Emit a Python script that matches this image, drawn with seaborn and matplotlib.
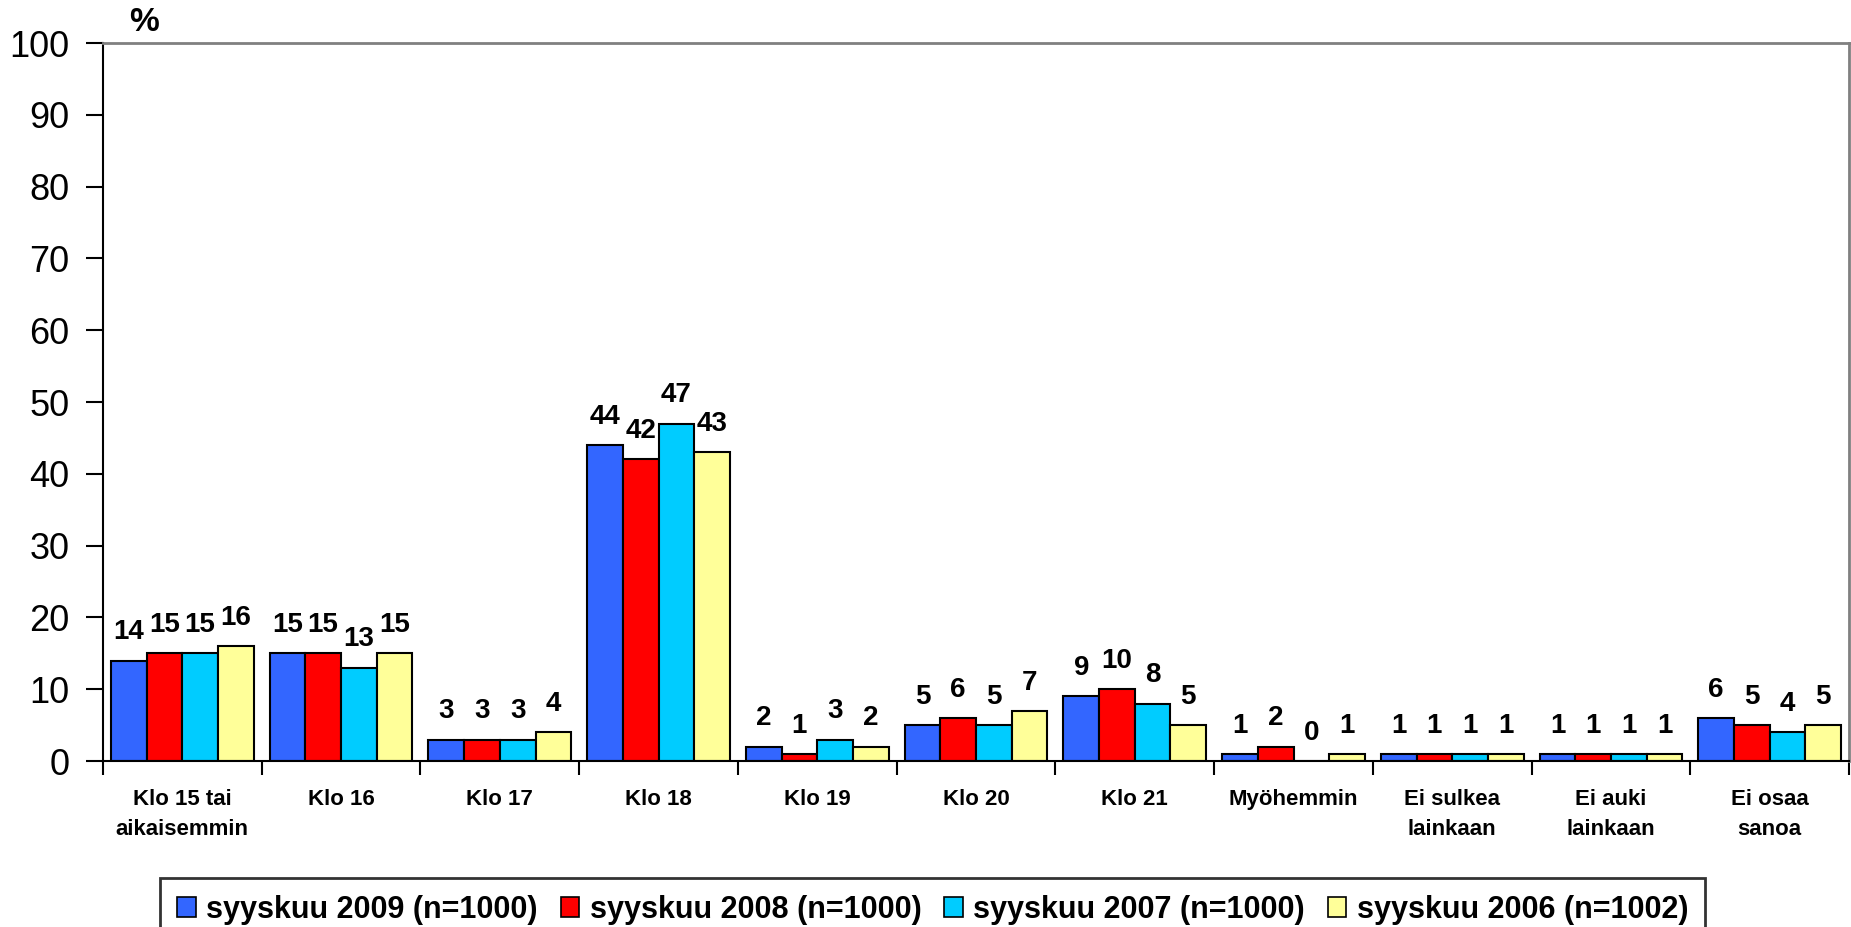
import numpy as np
import pandas as pd
import matplotlib
matplotlib.use('Agg')
import matplotlib.pyplot as plt
from matplotlib.patches import Patch
import seaborn as sns

# categories on the x axis
categories = ['Klo 15 tai\naikaisemmin', 'Klo 16', 'Klo 17', 'Klo 18', 'Klo 19',
              'Klo 20', 'Klo 21', 'Myöhemmin', 'Ei sulkea\nlainkaan',
              'Ei auki\nlainkaan', 'Ei osaa\nsanoa']

# series values (%)
s2009 = [14, 15, 3, 44, 2, 5, 9, 1, 1, 1, 6]
s2008 = [15, 15, 3, 42, 1, 6, 10, 2, 1, 1, 5]
s2007 = [15, 13, 3, 47, 3, 5, 8, 0, 1, 1, 4]
s2006 = [16, 15, 4, 43, 2, 7, 5, 1, 1, 1, 5]

series_names = ['syyskuu 2009 (n=1000)', 'syyskuu 2008 (n=1000)',
                'syyskuu 2007 (n=1000)', 'syyskuu 2006 (n=1002)']
colors = ['#3366FF', '#FF0000', '#00CCFF', '#FFFF99']

rows = []
for name, vals in zip(series_names, [s2009, s2008, s2007, s2006]):
    for cat, v in zip(categories, vals):
        rows.append({'Kategoria': cat, 'Sarja': name, 'Arvo': v})
df = pd.DataFrame(rows)

sns.set_style('white')
plt.rcParams['font.family'] = ['Liberation Sans', 'DejaVu Sans']
plt.rcParams['text.color'] = 'black'
plt.rcParams['xtick.color'] = 'black'
plt.rcParams['ytick.color'] = 'black'

fig = plt.figure(figsize=(18.51, 9.27), dpi=100)
ax = fig.add_axes([0.0556, 0.179, 0.9434, 0.7746])

sns.barplot(data=df, x='Kategoria', y='Arvo', hue='Sarja', order=categories,
            hue_order=series_names, palette=colors, width=0.9, gap=0,
            edgecolor='black', linewidth=1.5, saturation=1, legend=False, ax=ax)

for cont in ax.containers:
    ax.bar_label(cont, fmt='%d', padding=11, fontsize=20, fontweight='bold')

ax.set_ylim(0, 100)
ax.set_xlim(-0.5, len(categories) - 0.5)
ax.set_yticks(range(0, 101, 10))
ax.tick_params(axis='y', labelsize=26, length=12, width=1.5, direction='out',
               pad=12, left=True)
ax.set_xticks(range(len(categories)))
ax.set_xticklabels(categories, fontsize=16, fontweight='bold', linespacing=1.6)
ax.tick_params(axis='x', which='major', length=0, pad=20)
ax.set_xticks(np.arange(-0.5, len(categories), 1), minor=True)
ax.tick_params(axis='x', which='minor', length=10, width=1.5, direction='out',
               bottom=True)
ax.set_xlabel('')
ax.set_ylabel('')

for side in ['left', 'bottom']:
    ax.spines[side].set_color('black')
    ax.spines[side].set_linewidth(1.5)
for side in ['top', 'right']:
    ax.spines[side].set_color('#808080')
    ax.spines[side].set_linewidth(2)

fig.text(0.078, 0.976, '%', fontsize=24, fontweight='bold', ha='center', va='center')

handles = [Patch(facecolor=c, edgecolor='black', linewidth=1.2) for c in colors]
leg = fig.legend(handles, series_names, loc='upper center', bbox_to_anchor=(0.504, 0.053),
                 ncol=4, frameon=True, fancybox=False, edgecolor='black', borderaxespad=0,
                 prop={'size': 22, 'weight': 'bold'}, handlelength=0.6, handleheight=0.6,
                 handletextpad=0.35, columnspacing=0.75, borderpad=0.55)
leg.get_frame().set_linewidth(2)

fig.savefig('out.png', dpi=100)
